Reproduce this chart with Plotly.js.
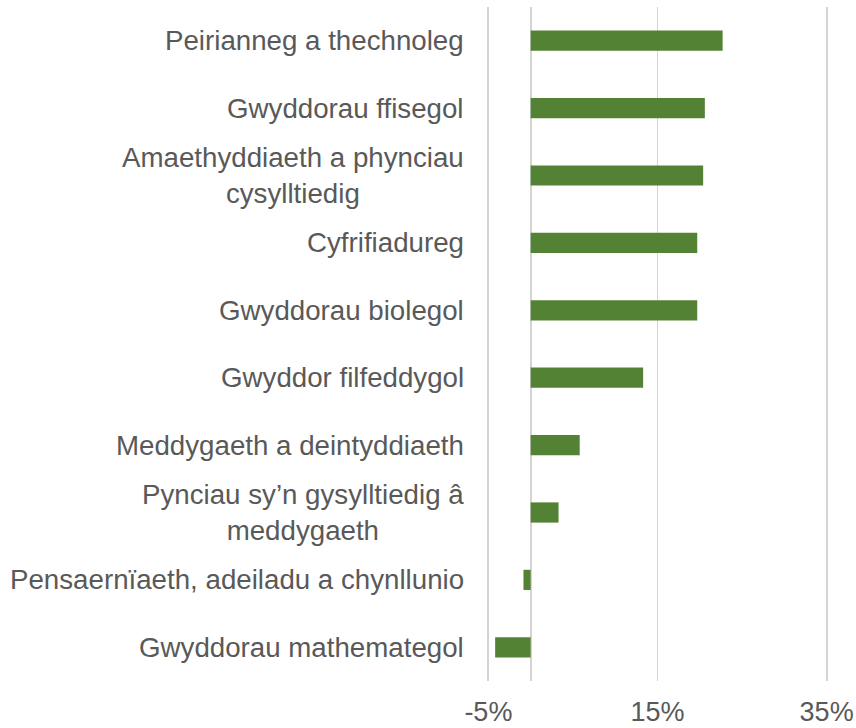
<!DOCTYPE html>
<html>
<head>
<meta charset="utf-8">
<script src="https://cdn.plot.ly/plotly-3.0.1.min.js"></script>
<style>
  html, body { margin: 0; padding: 0; background: #fff; }
  #graph { width: 856px; height: 728px; }
</style>
</head>
<body>
<div id="graph"></div>
<script>
// Pynciau (categories), top to bottom
var pynciau = [
    "Peirianneg a thechnoleg",
    "Gwyddorau ffisegol",
    "Amaethyddiaeth a phynciau<br>cysylltiedig",
    "Cyfrifiadureg",
    "Gwyddorau biolegol",
    "Gwyddor filfeddygol",
    "Meddygaeth a deintyddiaeth",
    "Pynciau sy\u2019n gysylltiedig â<br>meddygaeth",
    "Pensaernïaeth, adeiladu a chynllunio",
    "Gwyddorau mathemategol"
];

// newid canrannol (%)
var newid = [22.7, 20.6, 20.4, 19.7, 19.7, 13.3, 5.8, 3.3, -0.85, -4.2];

var ticiauX = [-5, 15, 35];
var labelauX = ["-5%", "15%", "35%"];

var grey = '#595959';
var ffont = '"Liberation Sans", Arial, sans-serif';

var dati = [{
    type: 'bar',
    orientation: 'h',
    y: pynciau,
    x: newid,
    marker: { color: '#548235' },
    hoverinfo: 'none'
}];

// labeli'r categorïau fel anodiadau er mwyn canoli llinellau lluosog
var labeli = pynciau.map(function (p) {
    return {
        xref: 'paper', yref: 'y',
        x: 0, y: p,
        xanchor: 'right', yanchor: 'middle',
        xshift: -19,
        align: 'center',
        text: p,
        showarrow: false,
        font: { family: ffont, size: 27.7, color: grey }
    };
});

var layout = {
    width: 856,
    height: 728,
    margin: { l: 485, r: 26, t: 7, b: 47 },
    paper_bgcolor: '#fff',
    plot_bgcolor: '#fff',
    showlegend: false,
    bargap: 0.7,
    xaxis: {
        range: [-5.4, 35.4],
        tickvals: ticiauX,
        ticktext: labelauX,
        showgrid: true,
        gridcolor: '#d4d4d4',
        gridwidth: 1.8,
        zeroline: true,
        zerolinecolor: '#d4d4d4',
        zerolinewidth: 1.8,
        showline: false,
        ticks: '',
        ticklabelstandoff: 12,
        tickfont: { family: ffont, size: 27, color: grey },
        fixedrange: true
    },
    yaxis: {
        autorange: 'reversed',
        showticklabels: false,
        showgrid: false,
        zeroline: false,
        showline: false,
        ticks: '',
        fixedrange: true
    },
    annotations: labeli
};

Plotly.newPlot('graph', dati, layout, { staticPlot: true });
</script>
</body>
</html>
